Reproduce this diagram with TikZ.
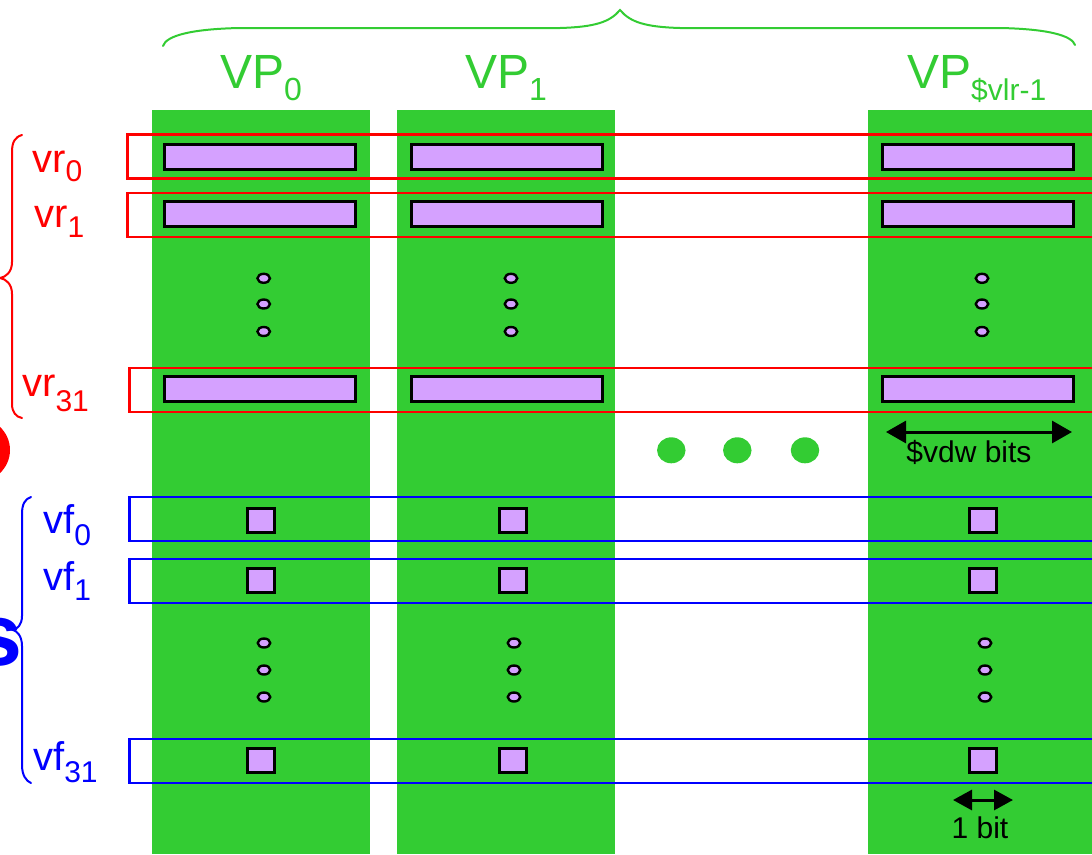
\documentclass[tikz,border=0pt]{standalone}
\usepackage{fontspec}
\setmainfont{Liberation Sans}
\usetikzlibrary{arrows.meta,shapes.geometric}
\definecolor{vpgreen}{RGB}{51,204,51}
\definecolor{regpurple}{RGB}{213,161,255}
\definecolor{vred}{RGB}{255,0,0}
\definecolor{vblue}{RGB}{0,0,255}
\newcommand\fs[1]{\fontsize{#1}{#1}\selectfont}
\newcommand\lbl[5]{{\fs{#1}#2}\raisebox{-#4pt}{\fs{#3}#5}}
\begin{document}
\begin{tikzpicture}[x=1pt,y=-1pt,
  col/.style={fill=vpgreen,draw=none,inner sep=0,minimum width=218,minimum height=744,anchor=north west},
  bar/.style={draw=black,line width=3pt,fill=regpurple,inner sep=0,minimum width=191,minimum height=25},
  sq/.style={draw=black,line width=3pt,fill=regpurple,inner sep=0,minimum width=27,minimum height=24},
  dot/.style={draw=black,line width=2.4pt,fill=regpurple,ellipse,inner sep=0,minimum width=12.5,minimum height=9},
  bigdot/.style={fill=vpgreen,ellipse,inner sep=0,minimum width=28.5,minimum height=26},
  rreg/.style={draw=vred,line width=2.7pt,inner sep=0,minimum width=1000,minimum height=44,anchor=west},
  breg/.style={draw=vblue,line width=2.7pt,inner sep=0,minimum width=1000,minimum height=44,anchor=west},
  lab/.style={inner sep=0,anchor=base west},
  dim/.style={draw=black,line width=3pt,{Triangle[length=20pt,width=22pt]}-{Triangle[length=20pt,width=22pt]}},
  brace/.style={line width=2pt,line cap=round}
]
\useasboundingbox (0,0) rectangle (1092,854);
\clip (0,0) rectangle (1092,854);
% left partial glyphs
\fill[vred] (-25,450) ellipse [x radius=35, y radius=33];
\node[inner sep=0,anchor=base east,text=vblue] (sglyph) at (23,665) {\fs{88}\bfseries s};
% columns
\node[col] (c0) at (152,110) {};
\node[col] (c1) at (397,110) {};
\node[col,minimum width=230] (c2) at (868,110) {};
% register boxes
\node[rreg] (r0) at (126,156.7) {};
\node[rreg] (r1) at (126,215) {};
\node[rreg] (r31) at (128,390) {};
\node[breg] (f0) at (128,519) {};
\node[breg] (f1) at (128,581) {};
\node[breg] (f31) at (128,761) {};
% bars
\foreach \x/\c in {260/a,507/b,977.5/c}{
  \node[bar] (b0\c) at (\x,157) {};
  \node[bar] (b1\c) at (\x,214) {};
  \node[bar] (b31\c) at (\x,389) {};
}
\foreach \x/\c in {263.7/a,511/b,982/c}{
  \node[dot] (d1\c) at (\x,278.3) {};
  \node[dot] (d2\c) at (\x,304) {};
  \node[dot] (d3\c) at (\x,331.5) {};
}
\foreach \x/\c in {260.7/a,512.5/b,983/c}{
  \node[sq] (s0\c) at (\x,520) {};
  \node[sq] (s1\c) at (\x,580.5) {};
  \node[sq] (s31\c) at (\x,760) {};
}
\foreach \x/\c in {264/a,514/b,985/c}{
  \node[dot] (e1\c) at (\x,643) {};
  \node[dot] (e2\c) at (\x,670) {};
  \node[dot] (e3\c) at (\x,697) {};
}
\node[bigdot] (g1) at (671.3,450.3) {};
\node[bigdot] (g2) at (737.3,450.3) {};
\node[bigdot] (g3) at (805,450.3) {};
% dimension arrows
\coordinate (vL) at (886,432);
\coordinate (vR) at (1072,432);
\draw[dim] (vL) -- (vR);
\node[inner sep=0,anchor=base] (vdw) at (969,462) {\fs{30}\$vdw bits};
\coordinate (bL) at (953,800);
\coordinate (bR) at (1013,800);
\draw[dim,{Triangle[length=19pt,width=20pt]}-{Triangle[length=19pt,width=20pt]}] (bL) -- (bR);
\node[inner sep=0,anchor=base] (onebit) at (980,838) {\fs{30}1 bit};
% labels
\node[lab,text=vred] (lvr0) at (32,172) {\lbl{40}{vr}{30}{9}{0}};
\node[lab,text=vred] (lvr1) at (34,227) {\lbl{40}{vr}{30}{10}{1}};
\node[lab,text=vred] (lvr31) at (22,396) {\lbl{40}{vr}{30}{15}{31}};
\node[lab,text=vblue] (lvf0) at (43,533) {\lbl{40}{vf}{30}{12}{0}};
\node[lab,text=vblue] (lvf1) at (43,590) {\lbl{40}{vf}{30}{10}{1}};
\node[lab,text=vblue] (lvf31) at (33,770) {\lbl{40}{vf}{30}{12}{31}};
\node[lab,text=vpgreen] (vp0) at (220,88) {\lbl{48}{VP}{32}{12}{0}};
\node[lab,text=vpgreen] (vp1) at (465,88) {\lbl{48}{VP}{32}{12}{1}};
\node[lab,text=vpgreen] (vpn) at (907,88) {\lbl{48}{VP}{30}{12}{\$vlr-1}};
% braces
\draw[brace,vred] (22,135) .. controls (15,137) and (12,142) .. (12,152) -- (12,262)
  .. controls (12,272) and (6,277) .. (0,278) .. controls (6,279) and (12,284) .. (12,294)
  -- (12,404) .. controls (12,412) and (16,417) .. (22,418);
\draw[brace,vblue] (31,497) .. controls (25,499) and (22,504) .. (22,514) -- (22,616)
  .. controls (22,625) and (17,629) .. (13,630) .. controls (17,631) and (22,636) .. (22,646)
  -- (22,765) .. controls (22,775) and (26,781) .. (31,783);
\draw[brace,vpgreen] (163,46) .. controls (166,36) and (190,29) .. (240,28) -- (560,28)
  .. controls (595,27) and (610,22) .. (620,10) .. controls (630,22) and (645,27) .. (680,28)
  -- (1000,28) .. controls (1050,29) and (1072,36) .. (1075,45);
\end{tikzpicture}
\end{document}
